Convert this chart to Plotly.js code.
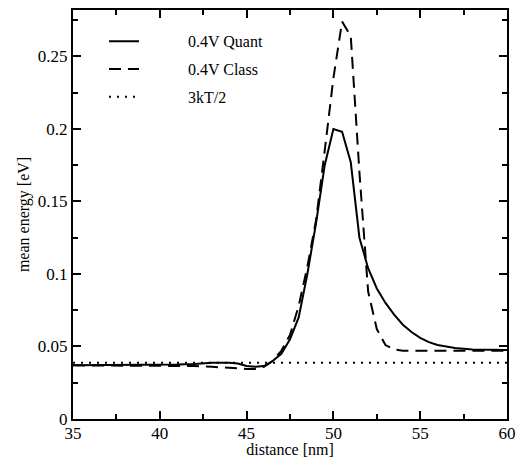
<!DOCTYPE html>
<html>
<head>
<meta charset="utf-8">
<script src="https://cdn.plot.ly/plotly-3.0.1.min.js"></script>
<style>html,body{margin:0;padding:0;background:#fff;}#chart{width:522px;height:458px;}</style>
</head>
<body>
<div id="chart"></div>
<script>
// distance [nm]
const xQuant = [35,36,37,38,39,40,41,42,43,44,44.5,45,45.5,46,46.5,47,47.5,48,48.5,49,49.5,50,50.5,51,51.5,52,52.5,53,53.5,54,54.5,55,55.5,56,57,58,59,60];
const yQuant = [0.037,0.037,0.037,0.037,0.037,0.037,0.0375,0.038,0.0388,0.0388,0.0382,0.0365,0.036,0.0365,0.04,0.045,0.055,0.07,0.1,0.135,0.175,0.2,0.198,0.177,0.125,0.104,0.09,0.08,0.072,0.065,0.06,0.056,0.053,0.051,0.049,0.048,0.0475,0.0475];
const xClass = [35,36,37,38,39,40,41,42,43,44,45,45.5,46,46.5,47,47.5,48,48.5,49,49.5,50,50.5,51,51.5,52,52.5,53,53.5,54,55,56,57,58,59,60];
const yClass = [0.037,0.037,0.037,0.037,0.037,0.037,0.037,0.0365,0.036,0.035,0.0345,0.0345,0.036,0.04,0.047,0.058,0.078,0.105,0.137,0.185,0.235,0.274,0.264,0.17,0.088,0.062,0.051,0.048,0.047,0.047,0.047,0.047,0.047,0.047,0.047];
const xThermal = [35,60];
const yThermal = [0.0388,0.0388];
const names = ["0.4V Quant","0.4V Class","3kT/2"];
const xTicks = [35,40,45,50,55,60];
const yTicks = [0,0.05,0.1,0.15,0.2,0.25];
const yTickText = ["0","0.05","0.1","0.15","0.2","0.25"];

const font = "Liberation Serif, Times New Roman, serif";
const pad = "&nbsp;".repeat(11);
const traces = [
  {x:xQuant,y:yQuant,name:pad+names[0],legendgroup:"a",mode:"lines",line:{color:"#000",width:2}},
  {x:xClass,y:yClass,name:pad+names[1],legendgroup:"b",mode:"lines",line:{color:"#000",width:2,dash:"12px,7px"}},
  {x:xThermal,y:yThermal,name:pad+names[2],legendgroup:"c",mode:"lines",line:{color:"#000",width:2,dash:"2px,6px"}}
];
const axisCommon = {
  showline:true, linecolor:"#000", linewidth:2, mirror:"allticks",
  ticks:"inside", ticklen:8, tickwidth:2, tickcolor:"#000",
  showgrid:false, zeroline:false,
  tickfont:{family:font,size:17,color:"#000"},
  minor:{ticks:"inside",ticklen:5,tickwidth:2,tickcolor:"#000"}
};
const layout = {
  width:522, height:458,
  margin:{l:73,r:15,t:10,b:39},
  paper_bgcolor:"#fff", plot_bgcolor:"#fff",
  showlegend:true,
  legend:{x:0.0714,y:0.965,xanchor:"left",yanchor:"top",bgcolor:"rgba(0,0,0,0)",
          font:{family:font,size:16,color:"#000"},itemwidth:30,tracegroupgap:4},
  xaxis:Object.assign({},axisCommon,{range:[35,60],tickvals:xTicks,ticktext:xTicks.map(String),
          ticklabelstandoff:-2,
          minor:Object.assign({},axisCommon.minor,{dtick:2.5,tick0:35}),
          title:{text:"distance [nm]",font:{family:font,size:16,color:"#000"},standoff:0}}),
  yaxis:Object.assign({},axisCommon,{range:[0,0.282],tickvals:yTicks,ticktext:yTickText,
          minor:Object.assign({},axisCommon.minor,{dtick:0.025,tick0:0}),
          title:{text:"mean energy [eV]",font:{family:font,size:16,color:"#000"},standoff:4}})
};
Plotly.newPlot("chart",traces,layout,{displayModeBar:false,staticPlot:true});
</script>
</body>
</html>
